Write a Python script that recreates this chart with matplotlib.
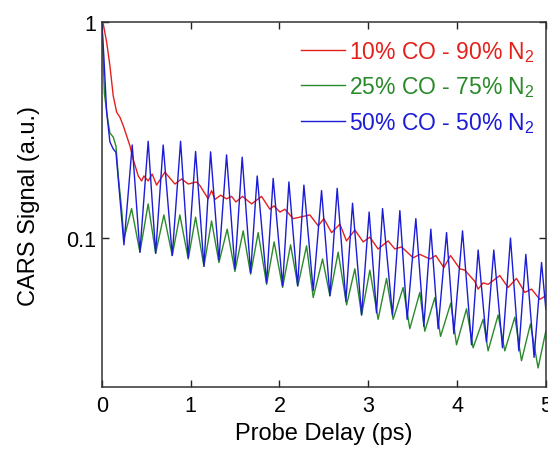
#!/usr/bin/env python3

import matplotlib
matplotlib.use("Agg")
import matplotlib.pyplot as plt
from matplotlib.ticker import NullLocator

plt.rcParams["font.family"] = ["Liberation Sans", "DejaVu Sans"]
plt.rcParams["mathtext.fontset"] = "custom"
plt.rcParams["mathtext.rm"] = "Liberation Sans"
plt.rcParams["mathtext.default"] = "regular"

# probe delay (ps) and normalised CARS signal
t_10 = [0.0, 0.015, 0.053, 0.090, 0.127, 0.166, 0.203, 0.240, 0.278, 0.315,
        0.352, 0.409, 0.447, 0.473, 0.521, 0.566, 0.616, 0.709, 0.822, 0.898,
        0.972, 1.066, 1.104, 1.197, 1.235, 1.273, 1.337, 1.404, 1.461, 1.509,
        1.584, 1.686, 1.798, 1.892, 1.937, 2.005, 2.061, 2.154, 2.342, 2.436,
        2.500, 2.587, 2.680, 2.755, 2.849, 2.943, 3.018, 3.111, 3.224, 3.300,
        3.375, 3.506, 3.581, 3.694, 3.761, 3.851, 3.927, 4.032, 4.088, 4.200,
        4.238, 4.294, 4.350, 4.482, 4.575, 4.670, 4.764, 4.839, 4.932, 5.0]
s_10 = [1.0, 0.982, 0.810, 0.629, 0.457, 0.383, 0.363, 0.332, 0.298, 0.268,
        0.232, 0.194, 0.184, 0.194, 0.184, 0.198, 0.176, 0.202, 0.178, 0.188,
        0.178, 0.182, 0.175, 0.152, 0.166, 0.151, 0.158, 0.152, 0.156, 0.147,
        0.156, 0.144, 0.156, 0.136, 0.141, 0.132, 0.136, 0.123, 0.128, 0.114,
        0.123, 0.106, 0.116, 0.097, 0.109, 0.096, 0.101, 0.089, 0.097, 0.089,
        0.091, 0.081, 0.084, 0.080, 0.083, 0.073, 0.083, 0.072, 0.071, 0.063,
        0.058, 0.062, 0.061, 0.067, 0.059, 0.065, 0.056, 0.058, 0.052, 0.054]

t_25 = [0.0, 0.028, 0.068, 0.090, 0.127, 0.158, 0.184, 0.222, 0.248,
        0.334, 0.428, 0.521, 0.605, 0.698, 0.792, 0.878, 0.972, 1.055, 1.149,
        1.235, 1.318, 1.411, 1.498, 1.591, 1.675, 1.760, 1.855, 1.940, 2.035,
        2.125, 2.207, 2.305, 2.380, 2.485, 2.568, 2.661, 2.756, 2.849, 2.925,
        3.018, 3.111, 3.206, 3.280, 3.393, 3.468, 3.581, 3.637, 3.750, 3.814,
        3.930, 3.994, 4.107, 4.181, 4.294, 4.350, 4.463, 4.538, 4.651, 4.726,
        4.827, 4.913, 5.0]
s_25 = [1.0, 0.465, 0.349, 0.307, 0.294, 0.267, 0.194, 0.136, 0.099,
        0.137, 0.086, 0.144, 0.085, 0.128, 0.083, 0.128, 0.080, 0.125, 0.074,
        0.120, 0.077, 0.110, 0.070, 0.108, 0.068, 0.106, 0.061, 0.096, 0.059,
        0.093, 0.060, 0.092, 0.053, 0.080, 0.054, 0.086, 0.049, 0.072, 0.044,
        0.071, 0.042, 0.065, 0.042, 0.059, 0.038, 0.056, 0.037, 0.053, 0.035,
        0.050, 0.032, 0.047, 0.031, 0.042, 0.030, 0.044, 0.030, 0.043, 0.027,
        0.040, 0.025, 0.037]

t_50 = [0.0, 0.023, 0.053, 0.090, 0.127, 0.158,
        0.248, 0.341, 0.428, 0.521, 0.605, 0.690, 0.792, 0.886, 0.972, 1.055,
        1.149, 1.224, 1.318, 1.404, 1.498, 1.580, 1.675, 1.749, 1.855, 1.929,
        2.035, 2.106, 2.204, 2.275, 2.380, 2.474, 2.568, 2.650, 2.748, 2.823,
        2.925, 3.010, 3.093, 3.161, 3.273, 3.356, 3.438, 3.536, 3.626, 3.705,
        3.787, 3.882, 3.964, 4.062, 4.163, 4.238, 4.332, 4.414, 4.512, 4.602,
        4.696, 4.775, 4.868, 4.952, 5.0]
s_50 = [1.0, 0.676, 0.384, 0.279, 0.259, 0.250,
        0.093, 0.270, 0.086, 0.281, 0.085, 0.270, 0.083, 0.281, 0.081, 0.252,
        0.074, 0.251, 0.079, 0.243, 0.072, 0.237, 0.069, 0.194, 0.062, 0.189,
        0.060, 0.182, 0.060, 0.176, 0.057, 0.166, 0.054, 0.170, 0.051, 0.145,
        0.044, 0.132, 0.045, 0.137, 0.044, 0.134, 0.042, 0.123, 0.039, 0.110,
        0.038, 0.106, 0.036, 0.108, 0.032, 0.088, 0.033, 0.088, 0.031, 0.100,
        0.030, 0.084, 0.028, 0.077, 0.047]

labels = [r"10% CO - 90% N$_2$", r"25% CO - 75% N$_2$", r"50% CO - 50% N$_2$"]
colors = ["#e3201c", "#2a8a2a", "#1c1cd6"]

fig = plt.figure(figsize=(5.48, 4.52), dpi=100)
ax = fig.add_axes([0.186, 0.1416, 0.81, 0.8068])

ax.plot(t_10, s_10, color=colors[0], lw=1.0, label=labels[0])
ax.plot(t_25, s_25, color=colors[1], lw=1.0, label=labels[1])
ax.plot(t_50, s_50, color=colors[2], lw=1.0, label=labels[2])

ax.set_yscale("log")
ax.set_xlim(0, 5)
ax.set_ylim(0.0204, 1)
ax.set_xticks([0, 1, 2, 3, 4, 5])
ax.set_yticks([0.1, 1])
ax.set_yticklabels(["0.1", "1"])
ax.yaxis.set_minor_locator(NullLocator())

ax.tick_params(direction="in", length=5, width=1, top=True, right=True,
               labelsize=15.5, colors="#222222", labelcolor="black")
ax.tick_params(axis="x", pad=6)
ax.tick_params(axis="y", pad=4)
for sp in ax.spines.values():
    sp.set_linewidth(1.1)
    sp.set_color("#333333")

ax.set_xlabel("Probe Delay (ps)", fontsize=17, labelpad=4)
ax.set_ylabel("CARS Signal (a.u.)", fontsize=17, labelpad=19)

leg = ax.legend(loc="upper right", frameon=False, fontsize=16.5,
                labelcolor="linecolor", handlelength=1.95, handletextpad=0.15,
                labelspacing=0.47, borderaxespad=0.0,
                bbox_to_anchor=(0.995, 0.98))

fig.savefig("out.png", dpi=100)
